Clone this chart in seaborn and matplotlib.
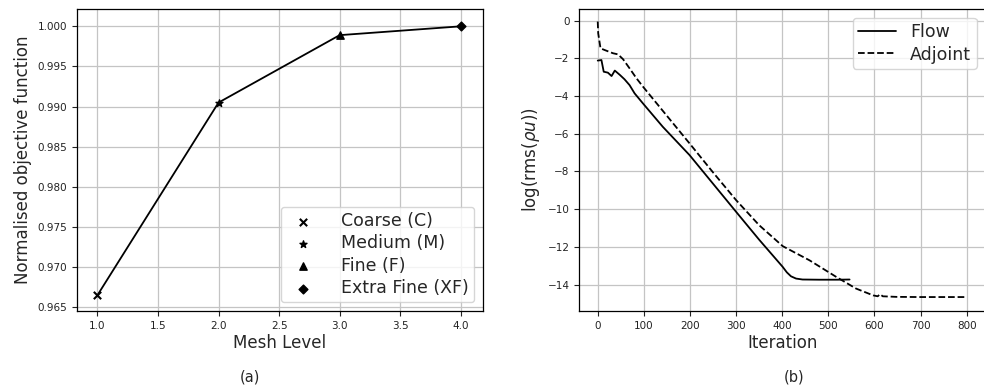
import numpy as np
import pandas as pd
import matplotlib
matplotlib.use("Agg")
import matplotlib.pyplot as plt
import seaborn as sns

# ---- data ----
mesh_level = [1.0, 2.0, 3.0, 4.0]
objective = [0.9665, 0.9905, 0.9989, 1.0000]
mesh_names = ["Coarse (C)", "Medium (M)", "Fine (F)", "Extra Fine (XF)"]
mesh_markers = ["x", "*", "^", "D"]

flow_iter = [0, 8, 13, 22, 30, 37, 48, 58, 69, 80, 98, 141, 199, 250, 300, 350, 401,
             410, 419, 430, 444, 480, 520, 546]
flow_res = [-2.12, -2.09, -2.71, -2.76, -2.94, -2.65, -2.88, -3.11, -3.42, -3.86, -4.39,
            -5.63, -7.13, -8.65, -10.14, -11.62, -13.06, -13.35, -13.56, -13.68, -13.73,
            -13.74, -13.74, -13.73]

adj_iter = [0, 1, 6, 15, 33, 44, 55, 69, 84, 98, 150, 199, 250, 300, 350, 401, 459, 517,
            560, 597, 607, 612, 618, 647, 700, 799]
adj_res = [-0.05, -0.67, -1.47, -1.56, -1.73, -1.79, -2.05, -2.53, -3.06, -3.50, -5.05,
           -6.51, -8.05, -9.52, -10.85, -11.96, -12.71, -13.59, -14.21, -14.57, -14.62,
           -14.51, -14.62, -14.65, -14.66, -14.66]

sns.set_theme(style="ticks", rc={"axes.grid": True, "grid.color": "#c4c4c4",
                                  "grid.linewidth": 0.9, "axes.edgecolor": "black",
                                  "xtick.color": "#222222", "ytick.color": "#222222"})
plt.rcParams["font.family"] = ["DejaVu Sans"]

fig = plt.figure(figsize=(9.84, 3.89), dpi=100)
ax1 = fig.add_axes([0.0783, 0.2005, 0.4126, 0.7756])
ax2 = fig.add_axes([0.5887, 0.2005, 0.4125, 0.7756])

# ---- left panel ----
df1 = pd.DataFrame({"level": mesh_level, "obj": objective, "name": mesh_names})
sns.lineplot(data=df1, x="level", y="obj", ax=ax1, color="black", linewidth=1.3,
             sort=False)
for xv, yv, nm, mk in zip(mesh_level, objective, mesh_names, mesh_markers):
    ax1.scatter([xv], [yv], marker=mk, color="black", s=28 if mk != "D" else 20,
                label=nm, zorder=3)
ax1.set_xlim(0.832, 4.184)
ax1.set_ylim(0.96454, 1.00212)
xt = [1.0, 1.5, 2.0, 2.5, 3.0, 3.5, 4.0]
yt = [0.965, 0.970, 0.975, 0.980, 0.985, 0.990, 0.995, 1.000]
ax1.set_xticks(xt)
ax1.set_yticks(yt)
ax1.set_yticklabels([f"{v:.3f}" for v in yt])
ax1.set_xticklabels([f"{v:.1f}" for v in xt])
ax1.tick_params(labelsize=7.5, length=3.5, width=0.8)
ax1.set_xlabel("Mesh Level", fontsize=12, labelpad=2)
ax1.set_ylabel("Normalised objective function", fontsize=12, labelpad=4)
ax1.legend(loc="lower right", fontsize=12.5, handletextpad=1.2, borderpad=0.3,
           labelspacing=0.25, frameon=True)

# ---- right panel ----
sns.lineplot(x=flow_iter, y=flow_res, ax=ax2, color="black", linewidth=1.3,
             sort=False, label="Flow")
sns.lineplot(x=adj_iter, y=adj_res, ax=ax2, color="black", linewidth=1.3,
             sort=False, linestyle="--", label="Adjoint")
ax2.set_xlim(-40, 840)
ax2.set_ylim(-15.4, 0.6)
ax2.set_xticks(range(0, 801, 100))
ax2.set_yticks(range(-14, 1, 2))
ax2.set_yticklabels([("\u2212" + str(-v)) if v < 0 else str(v) for v in range(-14, 1, 2)])
ax2.tick_params(labelsize=7.5, length=3.5, width=0.8)
ax2.set_xlabel("Iteration", fontsize=12, labelpad=2)
ax2.set_ylabel(r"log(rms($\rho u$))", fontsize=12, labelpad=4)
ax2.legend(loc="upper right", fontsize=12.5, borderpad=0.3, labelspacing=0.25,
           handlelength=2.2, frameon=True)

for ax in (ax1, ax2):
    for s in ax.spines.values():
        s.set_color("black")
        s.set_linewidth(0.9)
    ax.set_axisbelow(True)

fig.text(250 / 984, 1 - 377 / 389, "(a)", ha="center", va="center", fontsize=10.5)
fig.text(794 / 984, 1 - 377 / 389, "(b)", ha="center", va="center", fontsize=10.5)

fig.savefig("out.png", dpi=100)
